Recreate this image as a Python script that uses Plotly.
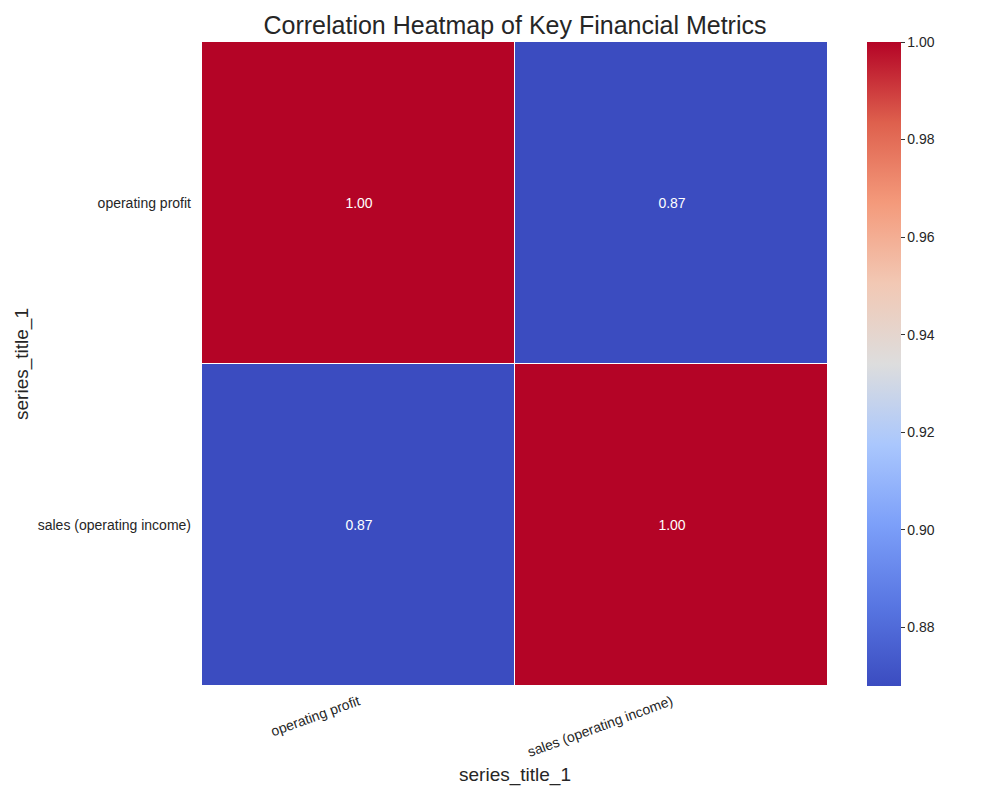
import plotly.graph_objects as go

# correlation matrix values
metrics = ["operating profit", "sales (operating income)"]
corr_row_profit = [1.0, 0.868]
corr_row_sales = [0.868, 1.0]
axis_title = "series_title_1"
chart_title = "Correlation Heatmap of Key Financial Metrics"
colorbar_ticks = [0.88, 0.90, 0.92, 0.94, 0.96, 0.98, 1.00]

# matplotlib "coolwarm" approximated
coolwarm = [
    [0.0, "rgb(59,76,192)"],
    [0.125, "rgb(88,118,226)"],
    [0.25, "rgb(124,159,249)"],
    [0.375, "rgb(170,199,253)"],
    [0.5, "rgb(221,221,221)"],
    [0.625, "rgb(242,200,180)"],
    [0.75, "rgb(244,154,123)"],
    [0.875, "rgb(222,96,77)"],
    [1.0, "rgb(180,4,38)"],
]

z = [corr_row_profit, corr_row_sales]
font_family = "Liberation Sans, Arial, sans-serif"

fig = go.Figure()
fig.add_trace(go.Heatmap(
    z=z, x=metrics, y=metrics,
    colorscale=coolwarm,
    zmin=min(min(r) for r in z), zmax=max(max(r) for r in z),
    xgap=1, ygap=1,
    texttemplate="%{z:.2f}",
    textfont=dict(color="white", size=14, family=font_family),
    colorbar=dict(
        x=1.0623, xanchor="left", xref="paper", xpad=0,
        y=0, yanchor="bottom", ypad=0, len=1, lenmode="fraction",
        thickness=34, outlinewidth=0,
        tickvals=colorbar_ticks, tickformat=".2f",
        ticks="outside", ticklen=4, tickcolor="#333",
        tickfont=dict(size=14, color="#262626"),
    ),
))

# page body adds ~8px offset, so margins are shifted to compensate
fig.update_layout(
    width=1000, height=800,
    paper_bgcolor="white", plot_bgcolor="white",
    font=dict(family=font_family, color="#262626"),
    title=dict(text=chart_title, x=0.5, xref="paper", xanchor="center",
               y=0.979, yanchor="middle",
               font=dict(size=25, color="#262626")),
    margin=dict(l=194, r=180, t=34, b=122, autoexpand=False),
)
fig.update_xaxes(
    title=dict(text=axis_title, font=dict(size=19), standoff=8),
    tickangle=-20, tickfont=dict(size=14), showgrid=False, zeroline=False,
    ticks="", ticklabelstandoff=4,
)
fig.update_yaxes(
    title=dict(text=axis_title, font=dict(size=19), standoff=4),
    autorange="reversed", tickfont=dict(size=14), showgrid=False, zeroline=False,
    ticks="", ticklabelstandoff=10,
)

fig.write_html("out.html")
